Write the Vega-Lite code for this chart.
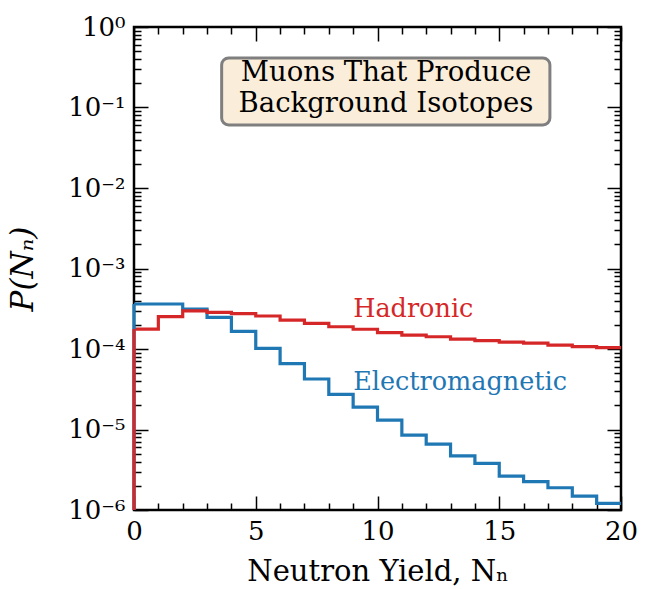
{
  "$schema": "https://vega.github.io/schema/vega-lite/v6.json",
  "width": 487,
  "height": 483,
  "autosize": {"type": "none"},
  "padding": {"left": 134, "top": 27, "right": 26, "bottom": 79},
  "background": "white",
  "config": {
    "view": {"stroke": "#000", "strokeWidth": 2.5},
    "font": "DejaVu Serif",
    "axis": {"grid": false, "domain": false, "labelFont": "DejaVu Serif", "titleFont": "DejaVu Serif", "labelColor": "#000", "titleColor": "#000", "tickColor": "#000", "tickWidth": 1.5, "labelFontSize": 26, "titleFontSize": 29, "titleFontWeight": "normal"}
  },
  "datasets": {
    "hist": [
      {"series": "Electromagnetic", "n": 0, "p": 3.62e-4},
      {"series": "Electromagnetic", "n": 1, "p": 3.62e-4},
      {"series": "Electromagnetic", "n": 2, "p": 3.14e-4},
      {"series": "Electromagnetic", "n": 3, "p": 2.47e-4},
      {"series": "Electromagnetic", "n": 4, "p": 1.66e-4},
      {"series": "Electromagnetic", "n": 5, "p": 1.02e-4},
      {"series": "Electromagnetic", "n": 6, "p": 6.6e-5},
      {"series": "Electromagnetic", "n": 7, "p": 4.24e-5},
      {"series": "Electromagnetic", "n": 8, "p": 2.73e-5},
      {"series": "Electromagnetic", "n": 9, "p": 1.9e-5},
      {"series": "Electromagnetic", "n": 10, "p": 1.31e-5},
      {"series": "Electromagnetic", "n": 11, "p": 8.5e-6},
      {"series": "Electromagnetic", "n": 12, "p": 6.6e-6},
      {"series": "Electromagnetic", "n": 13, "p": 4.69e-6},
      {"series": "Electromagnetic", "n": 14, "p": 3.8e-6},
      {"series": "Electromagnetic", "n": 15, "p": 2.64e-6},
      {"series": "Electromagnetic", "n": 16, "p": 2.25e-6},
      {"series": "Electromagnetic", "n": 17, "p": 1.89e-6},
      {"series": "Electromagnetic", "n": 18, "p": 1.49e-6},
      {"series": "Electromagnetic", "n": 19, "p": 1.21e-6},
      {"series": "Electromagnetic", "n": 20, "p": 1.21e-6},
      {"series": "Hadronic", "n": 0, "p": 1.77e-4},
      {"series": "Hadronic", "n": 1, "p": 2.52e-4},
      {"series": "Hadronic", "n": 2, "p": 2.97e-4},
      {"series": "Hadronic", "n": 3, "p": 2.85e-4},
      {"series": "Hadronic", "n": 4, "p": 2.75e-4},
      {"series": "Hadronic", "n": 5, "p": 2.57e-4},
      {"series": "Hadronic", "n": 6, "p": 2.29e-4},
      {"series": "Hadronic", "n": 7, "p": 2.08e-4},
      {"series": "Hadronic", "n": 8, "p": 1.89e-4},
      {"series": "Hadronic", "n": 9, "p": 1.76e-4},
      {"series": "Hadronic", "n": 10, "p": 1.6e-4},
      {"series": "Hadronic", "n": 11, "p": 1.49e-4},
      {"series": "Hadronic", "n": 12, "p": 1.42e-4},
      {"series": "Hadronic", "n": 13, "p": 1.33e-4},
      {"series": "Hadronic", "n": 14, "p": 1.27e-4},
      {"series": "Hadronic", "n": 15, "p": 1.22e-4},
      {"series": "Hadronic", "n": 16, "p": 1.18e-4},
      {"series": "Hadronic", "n": 17, "p": 1.12e-4},
      {"series": "Hadronic", "n": 18, "p": 1.07e-4},
      {"series": "Hadronic", "n": 19, "p": 1.04e-4},
      {"series": "Hadronic", "n": 20, "p": 1.04e-4}
    ],
    "labels": [
      {"series": "Hadronic", "n": 9.0, "p": 3.1e-4},
      {"series": "Electromagnetic", "n": 9.0, "p": 3.9e-5}
    ],
    "box": [{"x1": 3.6, "x2": 17.08, "y1": 0.0607, "y2": 0.412}],
    "boxtext": [
      {"line": "Muons That Produce", "n": 10.35, "p": 0.268},
      {"line": "Background Isotopes", "n": 10.35, "p": 0.1105}
    ]
  },
  "resolve": {"axis": {"x": "independent", "y": "independent"}},
  "layer": [
    {
      "data": {"name": "box"},
      "mark": {"type": "rect", "fill": "#faeedb", "stroke": "#7f7f7f", "strokeWidth": 3, "cornerRadius": 7},
      "encoding": {
        "x": {"field": "x1", "type": "quantitative", "scale": {"domain": [0, 20], "nice": false, "zero": false},
          "axis": {"orient": "bottom", "values": [0,1,2,3,4,5,6,7,8,9,10,11,12,13,14,15,16,17,18,19,20], "title": "Neutron Yield, Nₙ", "titlePadding": 13,
            "labelExpr": "datum.value % 5 == 0 ? datum.label : ''",
            "tickSize": {"condition": {"test": "datum.value % 5 == 0", "value": -14}, "value": -7},
            "labelPadding": 22, "labelFlush": false}},
        "x2": {"field": "x2"},
        "y": {"field": "y1", "type": "quantitative", "scale": {"type": "log", "domain": [1e-6, 1], "nice": false},
          "axis": {"orient": "left", "title": "P(Nₙ)", "titleFontStyle": "italic", "titlePadding": 28, "titleFontSize": 31,
            "values": [1e-6,2e-6,3e-6,4e-6,5e-6,6e-6,7e-6,8e-6,9e-6,1e-5,2e-5,3e-5,4e-5,5e-5,6e-5,7e-5,8e-5,9e-5,1e-4,2e-4,3e-4,4e-4,5e-4,6e-4,7e-4,8e-4,9e-4,1e-3,2e-3,3e-3,4e-3,5e-3,6e-3,7e-3,8e-3,9e-3,1e-2,2e-2,3e-2,4e-2,5e-2,6e-2,7e-2,8e-2,9e-2,0.1,0.2,0.3,0.4,0.5,0.6,0.7,0.8,0.9,1],
            "labelExpr": "abs(datum.value/pow(10, round(log(datum.value)/LN10)) - 1) < 1e-6 ? '10' + ['⁰','⁻¹','⁻²','⁻³','⁻⁴','⁻⁵','⁻⁶'][-round(log(datum.value)/LN10)] : ''",
            "tickSize": {"condition": {"test": "abs(datum.value/pow(10, round(log(datum.value)/LN10)) - 1) < 1e-6", "value": -14}, "value": -7},
            "labelPadding": 23}},
        "y2": {"field": "y2"}
      }
    },
    {
      "data": {"name": "boxtext"},
      "mark": {"type": "text", "font": "DejaVu Serif", "fontSize": 27.5, "color": "#000", "align": "center", "baseline": "middle"},
      "encoding": {
        "x": {"field": "n", "type": "quantitative", "scale": {"domain": [0, 20], "nice": false, "zero": false},
          "axis": {"orient": "top", "values": [0,1,2,3,4,5,6,7,8,9,10,11,12,13,14,15,16,17,18,19,20], "labels": false, "title": null,
            "tickSize": {"condition": {"test": "datum.value % 5 == 0", "value": -14}, "value": -7}}},
        "y": {"field": "p", "type": "quantitative", "scale": {"type": "log", "domain": [1e-6, 1], "nice": false},
          "axis": {"orient": "right", "labels": false, "title": null,
            "values": [1e-6,2e-6,3e-6,4e-6,5e-6,6e-6,7e-6,8e-6,9e-6,1e-5,2e-5,3e-5,4e-5,5e-5,6e-5,7e-5,8e-5,9e-5,1e-4,2e-4,3e-4,4e-4,5e-4,6e-4,7e-4,8e-4,9e-4,1e-3,2e-3,3e-3,4e-3,5e-3,6e-3,7e-3,8e-3,9e-3,1e-2,2e-2,3e-2,4e-2,5e-2,6e-2,7e-2,8e-2,9e-2,0.1,0.2,0.3,0.4,0.5,0.6,0.7,0.8,0.9,1],
            "tickSize": {"condition": {"test": "abs(datum.value/pow(10, round(log(datum.value)/LN10)) - 1) < 1e-6", "value": -14}, "value": -7}}},
        "text": {"field": "line"}
      }
    },
    {
      "data": {"name": "hist"},
      "mark": {"type": "line", "interpolate": "step-after", "strokeWidth": 3.2, "clip": true},
      "encoding": {
        "x": {"field": "n", "type": "quantitative", "axis": null},
        "y": {"field": "p", "type": "quantitative", "axis": null},
        "color": {"field": "series", "type": "nominal", "scale": {"domain": ["Electromagnetic", "Hadronic"], "range": ["#1f77b4", "#d62728"]}, "legend": null}
      }
    },
    {
      "data": {"name": "hist"},
      "transform": [{"filter": "datum.n == 0"}],
      "mark": {"type": "rule", "strokeWidth": 3.2},
      "encoding": {
        "x": {"field": "n", "type": "quantitative", "axis": null},
        "y": {"field": "p", "type": "quantitative", "axis": null},
        "y2": {"datum": 1e-6},
        "color": {"field": "series", "type": "nominal", "legend": null}
      }
    },
    {
      "data": {"name": "labels"},
      "mark": {"type": "text", "font": "DejaVu Serif", "fontSize": 25.5, "align": "left", "baseline": "middle"},
      "encoding": {
        "x": {"field": "n", "type": "quantitative", "axis": null},
        "y": {"field": "p", "type": "quantitative", "axis": null},
        "text": {"field": "series"},
        "color": {"field": "series", "type": "nominal", "legend": null}
      }
    }
  ]
}
